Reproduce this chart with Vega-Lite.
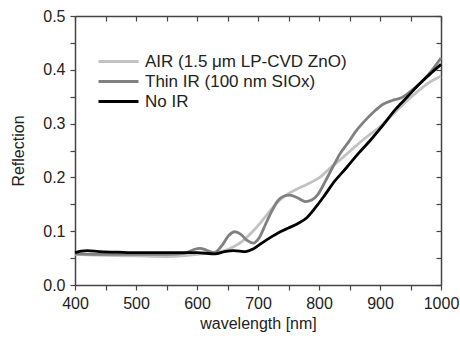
{
  "$schema": "https://vega.github.io/schema/vega-lite/v6.json",
  "width": 366,
  "height": 269,
  "autosize": {"type": "none"},
  "padding": {"left": 75, "top": 16, "right": 19, "bottom": 54},
  "background": "white",
  "config": {
    "font": "Liberation Sans",
    "view": {"stroke": null},
    "axis": {
      "grid": false,
      "domainColor": "#444444",
      "domainWidth": 1.5,
      "tickColor": "#444444",
      "tickWidth": 1.2,
      "labelFont": "Liberation Sans",
      "labelFontSize": 16,
      "labelColor": "#222222",
      "titleFont": "Liberation Sans",
      "titleFontSize": 16,
      "titleFontWeight": "normal",
      "titleColor": "#222222"
    },
    "legend": {
      "labelFont": "Liberation Sans",
      "labelFontSize": 17,
      "labelColor": "#222222",
      "labelLimit": 0
    }
  },
  "data": {
    "values": [
      {"series": "AIR (1.5 μm LP-CVD ZnO)", "wl": 400, "r": 0.057},
      {"series": "AIR (1.5 μm LP-CVD ZnO)", "wl": 420, "r": 0.056},
      {"series": "AIR (1.5 μm LP-CVD ZnO)", "wl": 450, "r": 0.055},
      {"series": "AIR (1.5 μm LP-CVD ZnO)", "wl": 500, "r": 0.054},
      {"series": "AIR (1.5 μm LP-CVD ZnO)", "wl": 550, "r": 0.053},
      {"series": "AIR (1.5 μm LP-CVD ZnO)", "wl": 575, "r": 0.054},
      {"series": "AIR (1.5 μm LP-CVD ZnO)", "wl": 600, "r": 0.057},
      {"series": "AIR (1.5 μm LP-CVD ZnO)", "wl": 625, "r": 0.060},
      {"series": "AIR (1.5 μm LP-CVD ZnO)", "wl": 645, "r": 0.064},
      {"series": "AIR (1.5 μm LP-CVD ZnO)", "wl": 660, "r": 0.071},
      {"series": "AIR (1.5 μm LP-CVD ZnO)", "wl": 675, "r": 0.082},
      {"series": "AIR (1.5 μm LP-CVD ZnO)", "wl": 690, "r": 0.098},
      {"series": "AIR (1.5 μm LP-CVD ZnO)", "wl": 705, "r": 0.117},
      {"series": "AIR (1.5 μm LP-CVD ZnO)", "wl": 720, "r": 0.138},
      {"series": "AIR (1.5 μm LP-CVD ZnO)", "wl": 735, "r": 0.157},
      {"series": "AIR (1.5 μm LP-CVD ZnO)", "wl": 750, "r": 0.170},
      {"series": "AIR (1.5 μm LP-CVD ZnO)", "wl": 765, "r": 0.179},
      {"series": "AIR (1.5 μm LP-CVD ZnO)", "wl": 780, "r": 0.187},
      {"series": "AIR (1.5 μm LP-CVD ZnO)", "wl": 800, "r": 0.199},
      {"series": "AIR (1.5 μm LP-CVD ZnO)", "wl": 820, "r": 0.219},
      {"series": "AIR (1.5 μm LP-CVD ZnO)", "wl": 840, "r": 0.238},
      {"series": "AIR (1.5 μm LP-CVD ZnO)", "wl": 860, "r": 0.258},
      {"series": "AIR (1.5 μm LP-CVD ZnO)", "wl": 880, "r": 0.277},
      {"series": "AIR (1.5 μm LP-CVD ZnO)", "wl": 900, "r": 0.294},
      {"series": "AIR (1.5 μm LP-CVD ZnO)", "wl": 920, "r": 0.316},
      {"series": "AIR (1.5 μm LP-CVD ZnO)", "wl": 940, "r": 0.338},
      {"series": "AIR (1.5 μm LP-CVD ZnO)", "wl": 960, "r": 0.358},
      {"series": "AIR (1.5 μm LP-CVD ZnO)", "wl": 980, "r": 0.376},
      {"series": "AIR (1.5 μm LP-CVD ZnO)", "wl": 1000, "r": 0.388},
      {"series": "Thin IR (100 nm SIOx)", "wl": 400, "r": 0.058},
      {"series": "Thin IR (100 nm SIOx)", "wl": 450, "r": 0.057},
      {"series": "Thin IR (100 nm SIOx)", "wl": 500, "r": 0.057},
      {"series": "Thin IR (100 nm SIOx)", "wl": 550, "r": 0.057},
      {"series": "Thin IR (100 nm SIOx)", "wl": 580, "r": 0.059},
      {"series": "Thin IR (100 nm SIOx)", "wl": 595, "r": 0.066},
      {"series": "Thin IR (100 nm SIOx)", "wl": 605, "r": 0.068},
      {"series": "Thin IR (100 nm SIOx)", "wl": 615, "r": 0.065},
      {"series": "Thin IR (100 nm SIOx)", "wl": 628, "r": 0.060},
      {"series": "Thin IR (100 nm SIOx)", "wl": 640, "r": 0.072},
      {"series": "Thin IR (100 nm SIOx)", "wl": 652, "r": 0.092},
      {"series": "Thin IR (100 nm SIOx)", "wl": 662, "r": 0.099},
      {"series": "Thin IR (100 nm SIOx)", "wl": 672, "r": 0.094},
      {"series": "Thin IR (100 nm SIOx)", "wl": 682, "r": 0.083},
      {"series": "Thin IR (100 nm SIOx)", "wl": 692, "r": 0.078},
      {"series": "Thin IR (100 nm SIOx)", "wl": 702, "r": 0.088},
      {"series": "Thin IR (100 nm SIOx)", "wl": 712, "r": 0.112},
      {"series": "Thin IR (100 nm SIOx)", "wl": 722, "r": 0.136},
      {"series": "Thin IR (100 nm SIOx)", "wl": 732, "r": 0.156},
      {"series": "Thin IR (100 nm SIOx)", "wl": 742, "r": 0.165},
      {"series": "Thin IR (100 nm SIOx)", "wl": 752, "r": 0.167},
      {"series": "Thin IR (100 nm SIOx)", "wl": 765, "r": 0.162},
      {"series": "Thin IR (100 nm SIOx)", "wl": 778, "r": 0.155},
      {"series": "Thin IR (100 nm SIOx)", "wl": 788, "r": 0.158},
      {"series": "Thin IR (100 nm SIOx)", "wl": 798, "r": 0.168},
      {"series": "Thin IR (100 nm SIOx)", "wl": 810, "r": 0.192},
      {"series": "Thin IR (100 nm SIOx)", "wl": 822, "r": 0.218},
      {"series": "Thin IR (100 nm SIOx)", "wl": 835, "r": 0.245},
      {"series": "Thin IR (100 nm SIOx)", "wl": 848, "r": 0.265},
      {"series": "Thin IR (100 nm SIOx)", "wl": 860, "r": 0.285},
      {"series": "Thin IR (100 nm SIOx)", "wl": 875, "r": 0.305},
      {"series": "Thin IR (100 nm SIOx)", "wl": 890, "r": 0.322},
      {"series": "Thin IR (100 nm SIOx)", "wl": 905, "r": 0.336},
      {"series": "Thin IR (100 nm SIOx)", "wl": 920, "r": 0.343},
      {"series": "Thin IR (100 nm SIOx)", "wl": 935, "r": 0.348},
      {"series": "Thin IR (100 nm SIOx)", "wl": 950, "r": 0.360},
      {"series": "Thin IR (100 nm SIOx)", "wl": 965, "r": 0.374},
      {"series": "Thin IR (100 nm SIOx)", "wl": 980, "r": 0.392},
      {"series": "Thin IR (100 nm SIOx)", "wl": 1000, "r": 0.422},
      {"series": "No IR", "wl": 400, "r": 0.060},
      {"series": "No IR", "wl": 410, "r": 0.063},
      {"series": "No IR", "wl": 420, "r": 0.064},
      {"series": "No IR", "wl": 440, "r": 0.062},
      {"series": "No IR", "wl": 470, "r": 0.061},
      {"series": "No IR", "wl": 500, "r": 0.060},
      {"series": "No IR", "wl": 550, "r": 0.060},
      {"series": "No IR", "wl": 600, "r": 0.060},
      {"series": "No IR", "wl": 630, "r": 0.058},
      {"series": "No IR", "wl": 645, "r": 0.062},
      {"series": "No IR", "wl": 660, "r": 0.064},
      {"series": "No IR", "wl": 680, "r": 0.062},
      {"series": "No IR", "wl": 692, "r": 0.067},
      {"series": "No IR", "wl": 705, "r": 0.077},
      {"series": "No IR", "wl": 720, "r": 0.088},
      {"series": "No IR", "wl": 735, "r": 0.098},
      {"series": "No IR", "wl": 750, "r": 0.106},
      {"series": "No IR", "wl": 765, "r": 0.114},
      {"series": "No IR", "wl": 780, "r": 0.125},
      {"series": "No IR", "wl": 795, "r": 0.145},
      {"series": "No IR", "wl": 810, "r": 0.168},
      {"series": "No IR", "wl": 825, "r": 0.192},
      {"series": "No IR", "wl": 845, "r": 0.218},
      {"series": "No IR", "wl": 865, "r": 0.245},
      {"series": "No IR", "wl": 885, "r": 0.270},
      {"series": "No IR", "wl": 905, "r": 0.297},
      {"series": "No IR", "wl": 925, "r": 0.326},
      {"series": "No IR", "wl": 945, "r": 0.350},
      {"series": "No IR", "wl": 965, "r": 0.374},
      {"series": "No IR", "wl": 985, "r": 0.395},
      {"series": "No IR", "wl": 1000, "r": 0.410}
    ]
  },
  "resolve": {"axis": {"x": "independent", "y": "independent"}},
  "layer": [
    {
      "mark": {"type": "line", "strokeWidth": 2.8, "interpolate": "monotone"},
      "encoding": {
        "x": {
          "field": "wl", "type": "quantitative",
          "scale": {"domain": [400, 1000], "nice": false, "zero": false},
          "axis": {
            "title": "wavelength [nm]",
            "values": [400, 450, 500, 550, 600, 650, 700, 750, 800, 850, 900, 950, 1000],
            "labelExpr": "datum.value % 100 == 0 ? datum.value : ''",
            "tickSize": 5, "labelPadding": 5, "titlePadding": 4, "labelFlush": false, "labelOverlap": false
          }
        },
        "y": {
          "field": "r", "type": "quantitative",
          "scale": {"domain": [0, 0.5], "nice": false},
          "axis": {
            "title": "Reflection",
            "values": [0, 0.05, 0.1, 0.15, 0.2, 0.25, 0.3, 0.35, 0.4, 0.45, 0.5],
            "labelExpr": "abs(datum.value*10 - round(datum.value*10)) < 0.001 ? format(datum.value, '.1f') : ''",
            "tickSize": 5, "labelPadding": 5, "titlePadding": 16, "labelFlush": false, "labelOverlap": false
          }
        },
        "color": {
          "field": "series", "type": "nominal",
          "scale": {
            "domain": ["AIR (1.5 μm LP-CVD ZnO)", "Thin IR (100 nm SIOx)", "No IR"],
            "range": ["#c2c2c2", "#808080", "#000000"]
          },
          "legend": {
            "title": null,
            "orient": "none",
            "legendX": 34,
            "legendY": 36,
            "padding": 0,
            "symbolType": "M-2.5,0H2.5",
            "symbolSize": 256,
            "symbolStrokeWidth": 3,
            "labelOffset": 17,
            "labelLimit": 0,
            "rowPadding": 2
          }
        }
      }
    },
    {
      "mark": {"type": "line", "opacity": 0},
      "encoding": {
        "x": {
          "field": "wl", "type": "quantitative",
          "axis": {
            "orient": "top", "title": null, "labels": false,
            "values": [400, 450, 500, 550, 600, 650, 700, 750, 800, 850, 900, 950, 1000],
            "tickSize": -5
          }
        },
        "y": {
          "field": "r", "type": "quantitative",
          "axis": {
            "orient": "right", "title": null, "labels": false,
            "values": [0, 0.05, 0.1, 0.15, 0.2, 0.25, 0.3, 0.35, 0.4, 0.45, 0.5],
            "tickSize": -5
          }
        },
        "detail": {"field": "series", "type": "nominal"}
      }
    }
  ]
}
